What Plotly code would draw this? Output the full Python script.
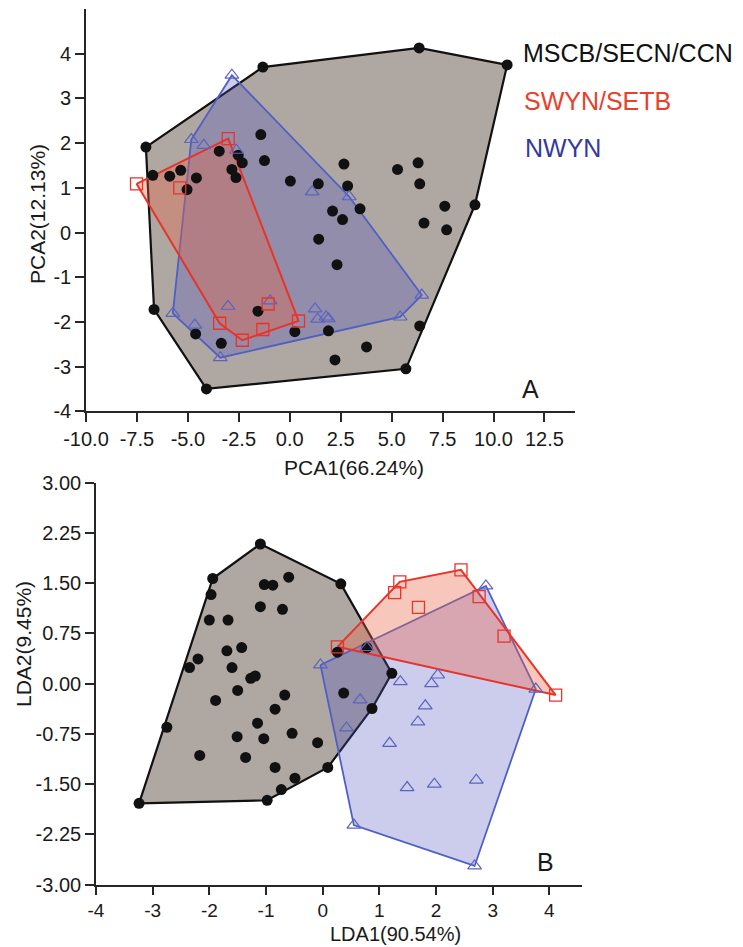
import plotly.graph_objects as go

# ---------------- Panel A (PCA) ----------------
pca_black_x = [-7.06, -1.32, 6.35, 10.67, -6.72, -5.89, -5.35, -4.58, -5.04, -3.46, -2.84, -2.64,
               -2.53, -2.33, -1.42, -1.24, 0.03, 1.40, 2.66, 2.84, 2.10, 2.59, 3.45, 5.29, 6.30,
               6.38, 7.61, 9.09, 6.59, 7.70, 1.42, 2.32, 6.38, 1.90, 3.77, 2.22, 5.70, -6.66,
               -4.62, -3.36, -1.56, 0.25, -4.09]
pca_black_y = [1.91, 3.70, 4.13, 3.75, 1.28, 1.26, 1.39, 1.22, 0.96, 1.82, 1.41, 1.23,
               1.73, 1.56, 2.19, 1.61, 1.15, 1.09, 1.53, 1.04, 0.48, 0.29, 0.53, 1.41, 1.56,
               1.09, 0.59, 0.62, 0.21, 0.06, -0.15, -0.72, -2.09, -2.20, -2.56, -2.85, -3.05, -1.72,
               -2.27, -2.48, -1.76, -2.22, -3.50]

pca_red_x = [-7.52, -5.40, -3.02, -3.44, -2.33, -1.32, -1.06, 0.43]
pca_red_y = [1.09, 1.00, 2.10, -2.03, -2.41, -2.17, -1.60, -1.98]

pca_blue_x = [-2.84, -4.83, -4.22, -2.62, 1.10, 2.92, 6.48, 5.42, 1.24, 1.37, 1.78, 1.90,
              -5.74, -4.66, -3.03, -3.41, -0.96]
pca_blue_y = [3.52, 2.08, 1.95, 1.84, 0.91, 0.80, -1.40, -1.89, -1.71, -1.94, -1.89, -1.93,
              -1.81, -2.07, -1.65, -2.80, -1.53]

# ---------------- Panel B (LDA) ----------------
lda_black_x = [-1.10, -1.94, -1.97, 0.32, -1.03, -0.88, -0.60, -1.10, -0.71, -2.00, -1.67, -2.20,
               -2.35, -1.69, -1.43, -1.60, -1.27, -1.19, -1.50, -1.89, -0.67, -0.84, 0.26, 0.78,
               0.37, 1.22, 0.87, 0.09, -0.09, -2.75, -3.24, -0.98, -0.73, -0.49, -2.17, -1.36,
               -0.84, -1.51, -1.04, -0.54, -1.15]
lda_black_y = [2.085, 1.57, 1.33, 1.49, 1.48, 1.47, 1.59, 1.15, 1.11, 0.95, 0.95, 0.37,
               0.24, 0.49, 0.54, 0.24, 0.08, 0.115, -0.10, -0.25, -0.17, -0.38, 0.47, 0.54,
               -0.14, 0.155, -0.37, -1.25, -0.88, -0.65, -1.785, -1.74, -1.58, -1.41, -1.07, -1.10,
               -1.25, -0.79, -0.82, -0.74, -0.59]

lda_red_x = [0.26, 1.27, 1.36, 1.69, 2.44, 2.76, 3.20, 4.11]
lda_red_y = [0.55, 1.36, 1.52, 1.14, 1.70, 1.30, 0.71, -0.17]

lda_blue_x = [-0.04, 0.78, 2.88, 1.37, 1.92, 2.03, 0.66, 3.76, 1.81, 1.68, 0.42, 1.18,
              1.49, 1.97, 2.71, 0.55, 2.68]
lda_blue_y = [0.28, 0.54, 1.46, 0.03, 0.00, 0.13, -0.24, -0.08, -0.33, -0.57, -0.66, -0.89,
              -1.55, -1.50, -1.44, -2.11, -2.72]

group_names = ["MSCB/SECN/CCN", "SWYN/SETB", "NWYN"]

pca_xticks = [-10.0, -7.5, -5.0, -2.5, 0.0, 2.5, 5.0, 7.5, 10.0, 12.5]
pca_yticks = [-4, -3, -2, -1, 0, 1, 2, 3, 4]
lda_xticks = [-4, -3, -2, -1, 0, 1, 2, 3, 4]
lda_yticks = [-3.0, -2.25, -1.5, -0.75, 0.0, 0.75, 1.5, 2.25, 3.0]

# page body adds an 8px margin, so the figure is drawn 8px in from the window edge
OFF = 8
W, H = 743 - OFF, 947 - OFF
FONT = "Liberation Sans, Arial, sans-serif"

BLACK_LINE = "#111111"
RED_LINE = "#e8332a"
BLUE_LINE = "#4f5fc4"
BLACK_FILL = "rgba(78,64,52,0.46)"
BLUE_FILL = "rgba(80,80,190,0.29)"
RED_FILL = "rgba(236,100,70,0.36)"
TRI_COLOR = "#5a64c0"


def px_x(p):
    return (p - OFF) / W


def px_y(p):
    return 1 - (p - OFF) / H


def hull(xs, ys):
    pts = sorted(set(zip(xs, ys)))

    def cross(o, a, b):
        return (a[0] - o[0]) * (b[1] - o[1]) - (a[1] - o[1]) * (b[0] - o[0])

    lower = []
    for p in pts:
        while len(lower) >= 2 and cross(lower[-2], lower[-1], p) <= 0:
            lower.pop()
        lower.append(p)
    upper = []
    for p in reversed(pts):
        while len(upper) >= 2 and cross(upper[-2], upper[-1], p) <= 0:
            upper.pop()
        upper.append(p)
    h = lower[:-1] + upper[:-1]
    h.append(h[0])
    return [p[0] for p in h], [p[1] for p in h]


fig = go.Figure()


def add_panel(bx, by, rx, ry, tx, ty, xa, ya):
    for xs, ys, fillc, linec, lw in [
        (bx, by, BLACK_FILL, BLACK_LINE, 2.2),
        (tx, ty, BLUE_FILL, BLUE_LINE, 1.8),
        (rx, ry, RED_FILL, RED_LINE, 2.0),
    ]:
        hx, hy = hull(xs, ys)
        fig.add_trace(go.Scatter(x=hx, y=hy, mode="lines", fill="toself", fillcolor=fillc,
                                 line=dict(color=linec, width=lw), xaxis=xa, yaxis=ya,
                                 hoverinfo="skip", showlegend=False))
    fig.add_trace(go.Scatter(x=bx, y=by, mode="markers", name=group_names[0],
                             marker=dict(symbol="circle", size=11, color="#111111"),
                             xaxis=xa, yaxis=ya, showlegend=False))
    fig.add_trace(go.Scatter(x=tx, y=ty, mode="markers", name=group_names[2],
                             marker=dict(symbol="triangle-up-open", size=12, color=TRI_COLOR,
                                         line=dict(width=1.2, color=TRI_COLOR)),
                             xaxis=xa, yaxis=ya, showlegend=False))
    fig.add_trace(go.Scatter(x=rx, y=ry, mode="markers", name=group_names[1],
                             marker=dict(symbol="square-open", size=12, color=RED_LINE,
                                         line=dict(width=1.3, color=RED_LINE)),
                             xaxis=xa, yaxis=ya, showlegend=False))


add_panel(pca_black_x, pca_black_y, pca_red_x, pca_red_y, pca_blue_x, pca_blue_y, "x", "y")
add_panel(lda_black_x, lda_black_y, lda_red_x, lda_red_y, lda_blue_x, lda_blue_y, "x2", "y2")


def fmt(vals, f):
    out = []
    for v in vals:
        s = f.format(abs(v))
        out.append(("-" + s) if v < 0 else s)
    return out


axis_common = dict(showline=True, linecolor="#262626", linewidth=1.6, ticks="outside",
                   ticklen=9, tickwidth=1.5, tickcolor="#262626", showgrid=False,
                   zeroline=False, automargin=False,
                   tickfont=dict(family=FONT, size=20, color="#1a1a1a"))
axis_b = dict(axis_common, ticklen=8, tickfont=dict(family=FONT, size=19, color="#1a1a1a"))

fig.update_layout(
    width=W, height=H,
    margin=dict(l=0, r=0, t=0, b=0, autoexpand=False),
    paper_bgcolor="white", plot_bgcolor="rgba(0,0,0,0)",
    showlegend=False,
    xaxis=dict(domain=[px_x(86), px_x(575)], range=[-10, 14], anchor="y",
               tickvals=pca_xticks, ticktext=fmt(pca_xticks, "{:.1f}"), **axis_common),
    yaxis=dict(domain=[px_y(411.3), px_y(9)], range=[-4, 5], anchor="x",
               tickvals=pca_yticks, ticktext=fmt(pca_yticks, "{:.0f}"), **axis_common),
    xaxis2=dict(domain=[px_x(96), px_x(581.7)], range=[-4, 4.57], anchor="y2",
                tickvals=lda_xticks, ticktext=fmt(lda_xticks, "{:.0f}"), **axis_b),
    yaxis2=dict(domain=[px_y(884.7), px_y(482.7)], range=[-3, 3], anchor="x2",
                tickvals=lda_yticks, ticktext=fmt(lda_yticks, "{:.2f}"), **axis_common),
)


def txt(s, px, py, size, color="#1a1a1a", xanchor="center", angle=0):
    fig.add_annotation(text=s, x=px_x(px), y=px_y(py), xref="paper", yref="paper",
                       xanchor=xanchor, yanchor="middle", showarrow=False, textangle=angle,
                       font=dict(family=FONT, size=size, color=color))


# axis titles
txt("PCA1(66.24%)", 354, 467, 21)
txt("PCA2(12.13%)", 37, 214, 21, angle=-90)
txt("LDA1(90.54%)", 395, 934, 20)
txt("LDA2(9.45%)", 23, 644, 21, angle=-90)

# group labels
txt(group_names[0], 521, 53, 25, color="#111111", xanchor="left")
txt(group_names[1], 522, 101, 25, color="#e8402a", xanchor="left")
txt(group_names[2], 523, 148, 25, color="#343a9a", xanchor="left")

# panel letters
txt("A", 530, 389, 25)
txt("B", 545, 862, 25)

fig.write_html("out.html")
